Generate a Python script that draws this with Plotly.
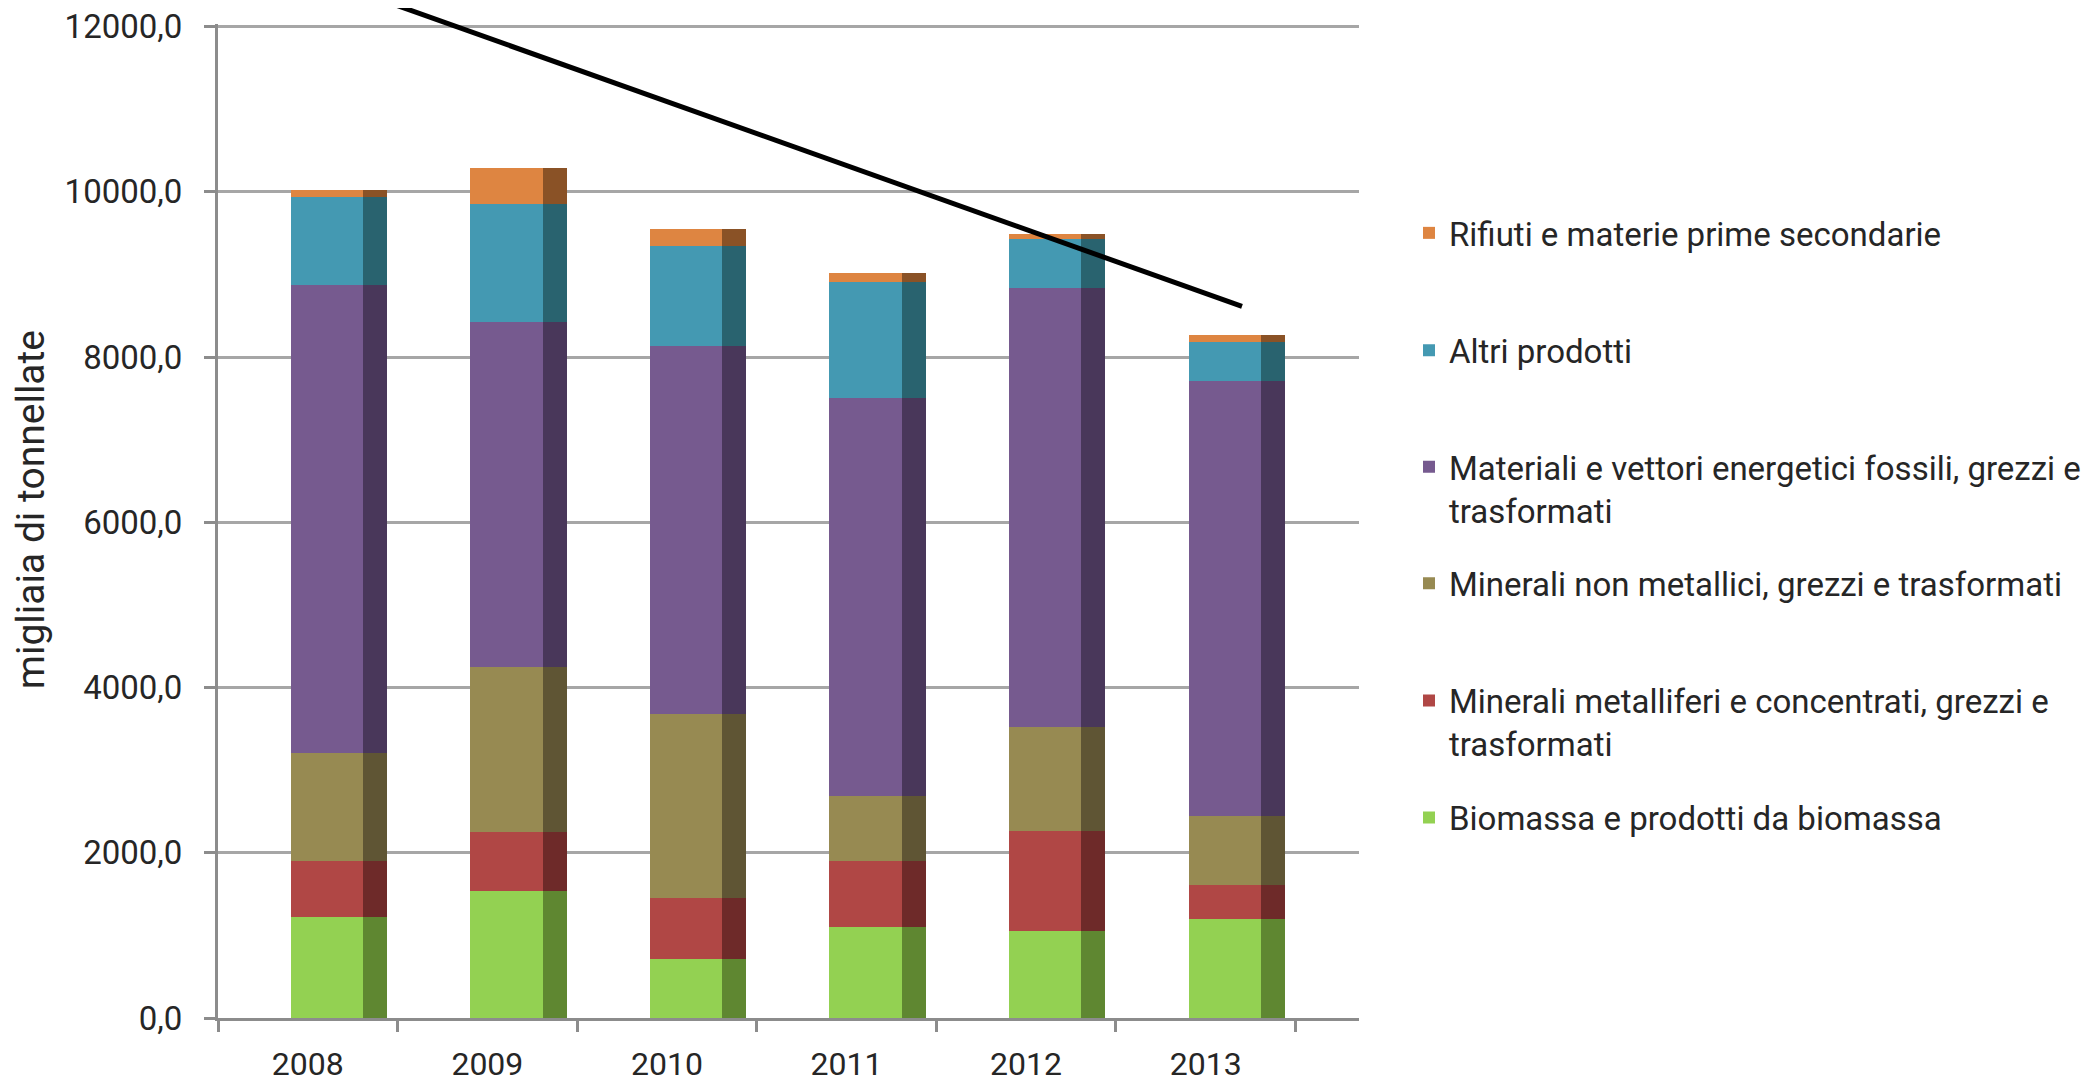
import numpy as np
import plotly.graph_objects as go

# ---------------- data ----------------
years = ["2008", "2009", "2010", "2011", "2012", "2013"]

biomassa = [1226, 1537, 718, 1097, 1049, 1194]
metalliferi = [674, 718, 738, 807, 1218, 415]
non_metallici = [1303, 1996, 2223, 786, 1258, 835]
fossili = [5667, 4175, 4457, 4816, 5305, 5264]
altri = [1061, 1424, 1206, 1404, 596, 468]
rifiuti = [92, 440, 206, 105, 57, 89]

series_names = [
    "Biomassa e prodotti da biomassa",
    "Minerali metalliferi e concentrati, grezzi e<br>trasformati",
    "Minerali non metallici, grezzi e trasformati",
    "Materiali e vettori energetici fossili, grezzi e<br>trasformati",
    "Altri prodotti",
    "Rifiuti e materie prime secondarie",
]
series_values = [biomassa, metalliferi, non_metallici, fossili, altri, rifiuti]

y_ticks = [0, 2000, 4000, 6000, 8000, 10000, 12000]
y_title = "migliaia di tonnellate"

# ---------------- styles ----------------
front_colors = ["#93D152", "#B04745", "#978A52", "#765A8F", "#4499B2", "#DE8541"]
side_colors = ["#5F8731", "#6E2A29", "#5F5534", "#49375A", "#29636F", "#8A5226"]
FONT = "Roboto, Lato, sans-serif"
TEXT = "#262626"
GRID = "#A6A6A6"
AXIS = "#8C8C8C"

# page body has an 8px default margin; the figure is sized to compensate
PAGE_OFF = 8
W, H = 2100 - PAGE_OFF, 1084 - PAGE_OFF
# reference: value 0 at page y 1018, value 12000 at page y 26
zero_page, top_tick_page = 1018, 26
# extend the plot area 2.5px above the top tick so its gridline is kept
plot_left_page, plot_right_page = 218, 1359
plot_top_page, plot_bottom_page = top_tick_page - 2.5, zero_page
y_max = y_ticks[-1] * (zero_page - plot_top_page) / (zero_page - top_tick_page)

L, T = plot_left_page - PAGE_OFF, plot_top_page - PAGE_OFF
R = W - (plot_right_page - PAGE_OFF)
B = H - (plot_bottom_page - PAGE_OFF)
plot_w = W - L - R
plot_h = H - T - B

front_offset, front_width = -0.095, 0.403
side_offset, side_width = 0.308, 0.133

fig = go.Figure()

bases = np.zeros(len(years))
# legend slots (page px of each item's first text line), bottom item first
legend_line_centers = [817.5, 700.5, 583, 466.5, 350, 232.5]
legend_ids = ["legend", "legend2", "legend3", "legend4", "legend5", "legend6"]

for i, (name, vals) in enumerate(zip(series_names, series_values)):
    vals = np.array(vals, dtype=float)
    fig.add_trace(go.Bar(
        x=years, y=vals, base=bases.copy(),
        offset=front_offset, width=front_width,
        marker=dict(color=front_colors[i], line=dict(width=0)),
        name=name, legend=legend_ids[i], showlegend=True,
    ))
    fig.add_trace(go.Bar(
        x=years, y=vals, base=bases.copy(),
        offset=side_offset, width=side_width,
        marker=dict(color=side_colors[i], line=dict(width=0)),
        name=name, showlegend=False, hoverinfo="skip",
    ))
    bases = bases + vals


def px_to_paper(px, py):
    return (px - plot_left_page) / plot_w, (plot_bottom_page - py) / plot_h


layout_legends = {}
for i, lid in enumerate(legend_ids):
    lx, ly = px_to_paper(1409, legend_line_centers[i] - 28.0)
    layout_legends[lid] = dict(
        x=lx, xanchor="left", y=ly, yanchor="top",
        valign="top",
        font=dict(family=FONT, size=33, color=TEXT),
        bgcolor="rgba(0,0,0,0)", borderwidth=0,
    )

fig.update_layout(
    width=W, height=H,
    margin=dict(l=L, r=R, t=T, b=B, autoexpand=False),
    paper_bgcolor="white", plot_bgcolor="white",
    barmode="overlay", bargap=0,
    separators=",.",
    font=dict(family=FONT, size=33, color=TEXT),
    showlegend=True,
    **layout_legends,
)

fig.update_xaxes(
    type="category", range=[-0.5, 5.854],
    tickson="boundaries", ticks="outside", ticklen=11, tickwidth=3, tickcolor=AXIS,
    showline=True, linecolor=AXIS, linewidth=3,
    showgrid=False, zeroline=False,
    tickfont=dict(family=FONT, size=32, color=TEXT),
    ticklabelstandoff=16,
)
fig.update_yaxes(
    range=[0, y_max], tickvals=y_ticks, tickformat=".1f",
    showgrid=True, gridcolor=GRID, gridwidth=3,
    showline=True, linecolor=AXIS, linewidth=3,
    ticks="outside", ticklen=11, tickwidth=3, tickcolor=AXIS,
    zeroline=False,
    ticklabeloverflow="allow",
    tickfont=dict(family=FONT, size=33, color=TEXT),
    ticklabelstandoff=15,
)

# y-axis title placed at the reference position
tx, ty = px_to_paper(31, 509)
fig.add_annotation(
    text=y_title, textangle=-90, showarrow=False,
    xref="paper", yref="paper", x=tx, y=ty, xanchor="center", yanchor="middle",
    font=dict(family=FONT, size=39, color=TEXT),
)

# decorative trend line drawn over the chart
x0, y0 = px_to_paper(355, -10)
x1, y1 = px_to_paper(1242, 306)
fig.add_shape(
    type="line", xref="paper", yref="paper",
    x0=x0, y0=y0, x1=x1, y1=y1,
    line=dict(color="black", width=5), layer="above",
)

fig.write_html("out.html")
